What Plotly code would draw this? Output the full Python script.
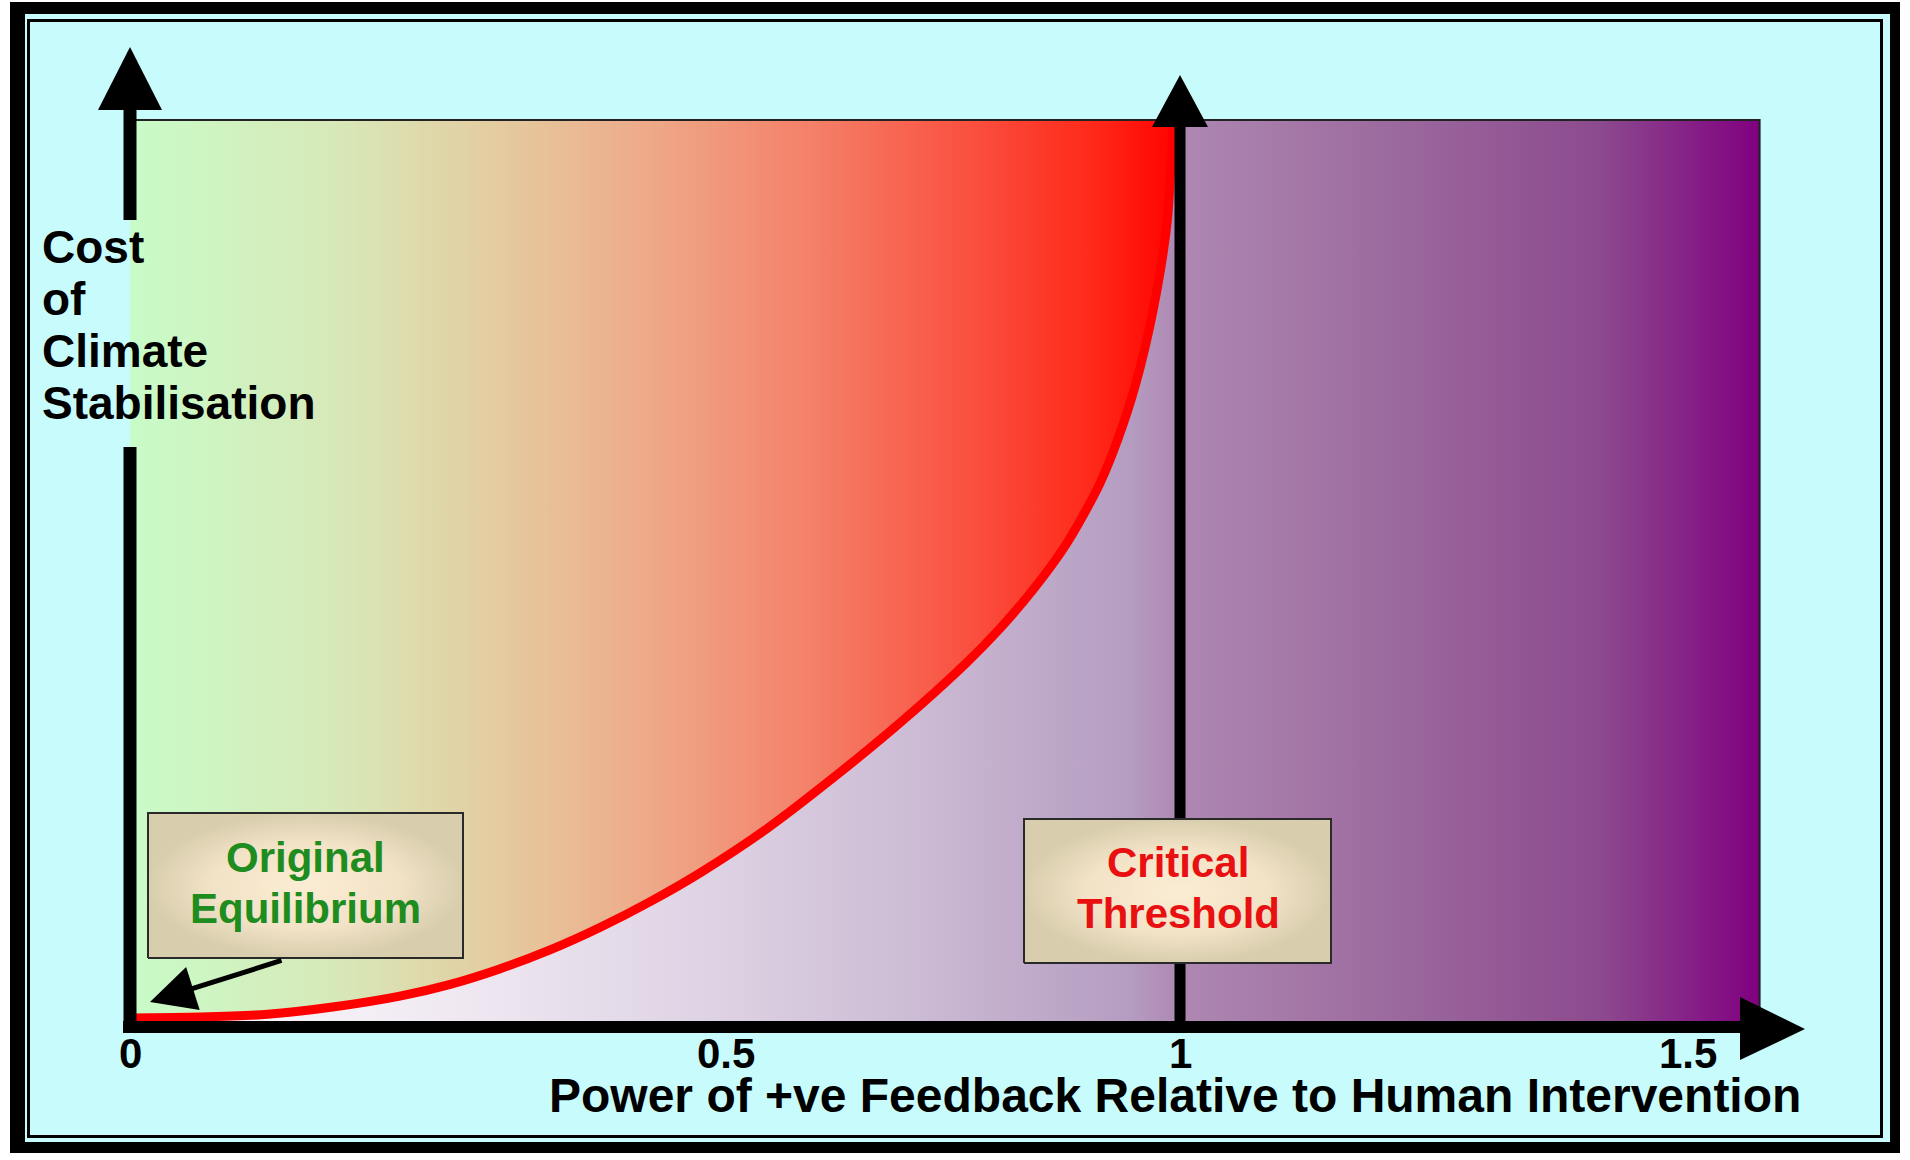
import plotly.graph_objects as go

# values: x = power of feedback (1 = critical threshold), y = cost (1 = top of panel)
curve_x = [0.000, 0.067, 0.131, 0.193, 0.257, 0.305, 0.352, 0.400, 0.448, 0.495, 0.543,
           0.607, 0.670, 0.733, 0.797, 0.829, 0.860, 0.892, 0.924, 0.946, 0.962,
           0.978, 0.988, 0.992, 0.994]
curve_y = [0.010, 0.011, 0.014, 0.022, 0.034, 0.047, 0.064, 0.085, 0.110, 0.138, 0.170,
           0.219, 0.275, 0.335, 0.402, 0.440, 0.482, 0.533, 0.600, 0.665, 0.727,
           0.812, 0.890, 0.963, 1.000]

x_ticks = [0.0, 0.568, 1.0, 1.484]
x_tick_labels = ["0", "0.5", "1", "1.5"]
threshold_x = 1.0
panel_right = 1.552
panel_top = 1.0

y_title_lines = ["Cost", "of", "Climate", "Stabilisation"]
x_title = "Power of +ve Feedback Relative to Human Intervention"
equilibrium_lines = ["Original", "Equilibrium"]
threshold_lines = ["Critical", "Threshold"]

W, H = 1910, 1160
X0, XS = 130, 1050   # pixel of x=0 and pixels per x unit
Y0, YS = 1027, 907   # pixel of y=0 and pixels per y unit


def px(p):
    return (p - X0) / XS


def py(p):
    return (Y0 - p) / YS


FONT = "Liberation Sans, Arial, sans-serif"
CYAN = "#C8FCFC"

upper_scale = [[0.0, "#C8FCC8"], [0.2, "#D8E8B8"], [0.35, "#E4CCA0"], [0.5, "#EEA888"],
               [0.65, "#F48068"], [0.8, "#FA5040"], [0.92, "#FF2818"], [1.0, "#FF0000"]]
lower_scale = [[0.0, "#FDFBFD"], [0.193, "#F0E9F2"], [0.354, "#DED3E4"], [0.483, "#CCBBD4"],
               [0.612, "#B59DC1"], [0.644, "#AE88B2"], [0.773, "#9C6A9E"], [0.902, "#8C4A8E"],
               [1.0, "#800080"]]
box_scale = [[0.0, "#FBEDD4"], [0.6, "#F2E2C6"], [1.0, "#D8CEAE"]]

fig = go.Figure()

# region under the curve (and everything past the threshold)
fig.add_trace(go.Scatter(
    x=curve_x + [panel_right, panel_right, 0],
    y=curve_y + [panel_top, 0, 0],
    mode="lines", line=dict(width=0), fill="toself",
    fillgradient=dict(type="horizontal", colorscale=lower_scale, start=0, stop=panel_right),
    hoverinfo="skip", showlegend=False,
))

# region above the curve
fig.add_trace(go.Scatter(
    x=[0, curve_x[-1]] + curve_x[::-1],
    y=[panel_top, panel_top] + curve_y[::-1],
    mode="lines", line=dict(width=0), fill="toself",
    fillgradient=dict(type="horizontal", colorscale=upper_scale, start=0, stop=1.0),
    hoverinfo="skip", showlegend=False,
))

fig.add_trace(go.Scatter(
    x=curve_x, y=curve_y, mode="lines",
    line=dict(color="#FF0000", width=9, shape="spline", smoothing=0.8),
    hoverinfo="skip", showlegend=False,
))

# critical threshold line
fig.add_trace(go.Scatter(
    x=[threshold_x, threshold_x], y=[0, py(127)], mode="lines",
    line=dict(color="black", width=11), hoverinfo="skip", showlegend=False,
))

boxes = [
    (px(148), px(463), py(958), py(813)),
    (px(1024), px(1331), py(963), py(819)),
]
for x1, x2, y1, y2 in boxes:
    fig.add_trace(go.Scatter(
        x=[x1, x2, x2, x1, x1], y=[y1, y1, y2, y2, y1], mode="lines",
        line=dict(color="#2A2A2A", width=2), fill="toself",
        fillgradient=dict(type="radial", colorscale=box_scale),
        hoverinfo="skip", showlegend=False,
    ))

shapes = [
    # picture frame
    dict(type="rect", x0=px(10), x1=px(1900), y0=py(1153), y1=py(2),
         fillcolor="black", line=dict(width=0), layer="below"),
    dict(type="rect", x0=px(25), x1=px(1890), y0=py(1142), y1=py(14),
         fillcolor=CYAN, line=dict(width=0), layer="below"),
    dict(type="rect", x0=px(28.5), x1=px(1881.5), y0=py(1136.5), y1=py(20.5),
         fillcolor=CYAN, line=dict(color="black", width=3), layer="below"),
    # panel outline, top and right edges
    dict(type="path", path=f"M 0,{panel_top} L {panel_right},{panel_top} L {panel_right},0",
         line=dict(color="#222222", width=2)),
    # y axis, broken where its title sits
    dict(type="line", x0=0, x1=0, y0=py(1033), y1=py(447),
         line=dict(color="black", width=13)),
    dict(type="line", x0=0, x1=0, y0=py(220), y1=py(108),
         line=dict(color="black", width=13)),
    dict(type="line", x0=px(123), x1=px(1740), y0=0, y1=0,
         line=dict(color="black", width=12)),
    dict(type="path", path=f"M {px(98)},{py(110)} L {px(130)},{py(47)} L {px(162)},{py(110)} Z",
         fillcolor="black", line=dict(width=0)),
    dict(type="path", path=f"M {px(1740)},{py(997)} L {px(1805)},{py(1029)} L {px(1740)},{py(1060)} Z",
         fillcolor="black", line=dict(width=0)),
    dict(type="path", path=f"M {px(1152)},{py(127)} L {px(1180)},{py(75)} L {px(1208)},{py(127)} Z",
         fillcolor="black", line=dict(width=0)),
]


def label(x, y, text, size, color="black", xanchor="center"):
    return dict(x=x, y=y, xref="x", yref="y", text=text, showarrow=False,
                xanchor=xanchor, yanchor="middle",
                font=dict(family=FONT, size=size, color=color, weight="bold"))


annotations = []
for i, line in enumerate(y_title_lines):
    annotations.append(label(px(40), py(247 + 52 * i), line, 46, xanchor="left"))
annotations.append(label(px(1175), py(1095), x_title, 48))
for xv, t in zip(x_ticks, x_tick_labels):
    annotations.append(label(xv, py(1053), t, 42))
for i, line in enumerate(equilibrium_lines):
    annotations.append(label(px(305), py(857 + 51 * i), line, 42, color="#1E8C1E"))
for i, line in enumerate(threshold_lines):
    annotations.append(label(px(1178), py(862 + 51 * i), line, 42, color="#E81010"))
annotations.append(dict(
    x=px(150), y=py(1002), ax=px(283), ay=py(960), axref="x", ayref="y", xref="x", yref="y",
    text="", showarrow=True, arrowhead=2, arrowwidth=5, arrowsize=1.8, arrowcolor="black",
))

fig.update_layout(
    width=W, height=H,
    margin=dict(l=0, r=0, t=0, b=0),
    paper_bgcolor="white", plot_bgcolor="white",
    xaxis=dict(range=[px(0), px(W)], visible=False, fixedrange=True),
    yaxis=dict(range=[py(H), py(0)], visible=False, fixedrange=True),
    shapes=shapes, annotations=annotations, showlegend=False,
)

fig.write_html("out.html", config={"displayModeBar": False},
               post_script="document.body.style.margin='0';document.body.style.overflow='hidden';")
